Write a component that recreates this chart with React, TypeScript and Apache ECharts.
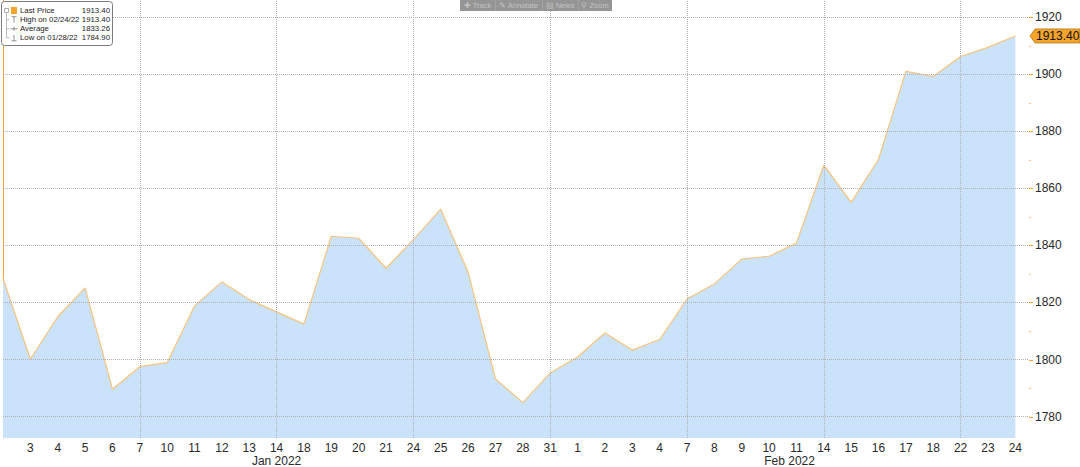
import React, { useEffect, useRef } from "react";
import * as echarts from "echarts";

// Trading days (first point is 31 Dec 2021, unlabeled)
const dateLabels = [
  "", "3", "4", "5", "6", "7", "10", "11", "12", "13", "14", "18", "19", "20", "21",
  "24", "25", "26", "27", "28", "31", "1", "2", "3", "4", "7", "8", "9", "10", "11",
  "14", "15", "16", "17", "18", "22", "23", "24",
];
const prices = [
  1828.4, 1800.2, 1815.0, 1825.1, 1789.6, 1797.5, 1798.9, 1818.8, 1827.2, 1821.0,
  1816.7, 1812.4, 1843.2, 1842.5, 1832.0, 1842.0, 1852.7, 1830.6, 1793.2, 1784.9,
  1795.3, 1800.9, 1809.3, 1803.3, 1807.0, 1821.2, 1826.5, 1835.2, 1836.2, 1840.8,
  1868.1, 1855.1, 1870.2, 1901.0, 1899.2, 1906.2, 1909.4, 1913.4,
];
const monthLabels = ["Jan 2022", "Feb 2022"];
const monthLabelAt = [10, 28.75];
const yTicks = [1780, 1800, 1820, 1840, 1860, 1880, 1900, 1920];
const yMinorTicks = [1790, 1810, 1830, 1850, 1870, 1890, 1910];
const legendNames = ["Last Price", "High on 02/24/22", "Average", "Low on 01/28/22"];
const legendValues = ["1913.40", "1913.40", "1833.26", "1784.90"];
const toolbarButtons = ["✚ Track", "✎ Annotate", "▤ News", "⚲ Zoom"];
const lastPriceText = "1913.40";

const FONT = "'Liberation Sans', Arial, sans-serif";
const ORANGE = "#f5a42c";

export default function App() {
  const ref = useRef<HTMLDivElement>(null);
  useEffect(() => {
    document.body.style.margin = "0";
    const chart = echarts.init(ref.current!, null, { renderer: "svg" });
    const data = prices.map((v, i) => [i, v]);
    const gridIdx = dateLabels.map((_, i) => i).filter((i) => i > 0 && i % 5 === 0);
    const xMax = prices.length - 0.5;
    const gridStyle = { color: "#adb1b6", type: [1, 1], width: 1 };
    chart.setOption({
      animation: false,
      backgroundColor: "#ffffff",
      grid: { left: 0, right: 51, top: 0, bottom: 29, containLabel: false },
      xAxis: {
        type: "value",
        min: 0,
        max: xMax,
        interval: 1,
        axisLine: { show: false },
        axisTick: { show: false },
        splitLine: { show: false },
        axisLabel: {
          color: "#2a2a2a",
          fontFamily: FONT,
          fontSize: 12,
          margin: 4,
          showMinLabel: true,
          showMaxLabel: true,
          formatter: (v: number) => (Number.isInteger(v) && dateLabels[v] !== undefined ? dateLabels[v] : ""),
        },
      },
      yAxis: {
        type: "value",
        position: "right",
        min: 1772.5,
        max: 1926,
        axisLine: { show: true, lineStyle: { color: ORANGE, width: 1 } },
        axisTick: { show: false },
        axisLabel: {
          customValues: yTicks,
          color: "#2a2a2a",
          fontFamily: FONT,
          fontSize: 12,
          margin: 6,
          formatter: (v: number) => String(v),
        },
        splitLine: { show: false },
      },
      series: [
        {
          type: "line",
          data,
          symbol: "none",
          lineStyle: { color: "#f8c37c", width: 1.2 },
          areaStyle: { color: "#cae3fb", opacity: 1 },
          markLine: {
            silent: true,
            symbol: "none",
            label: { show: false },
            lineStyle: gridStyle,
            data: [
              ...gridIdx.map((i) => ({ xAxis: i })),
              ...yTicks.map((v) => ({ yAxis: v })),
            ],
          },
          z: 2,
        },
      ],
    });

    const lastIdx = prices.length - 1;
    const yLast = chart.convertToPixel({ yAxisIndex: 0 }, prices[lastIdx]) as number;
    const axisX = chart.convertToPixel({ xAxisIndex: 0 }, xMax) as number;
    const bottomY = chart.convertToPixel({ yAxisIndex: 0 }, 1772.5) as number;

    const graphics: any[] = [];
    // ticks
    yTicks.forEach((v) => {
      const y = Math.round(chart.convertToPixel({ yAxisIndex: 0 }, v) as number) + 0.5;
      graphics.push({ type: "line", shape: { x1: axisX, y1: y, x2: axisX + 4, y2: y }, style: { stroke: ORANGE, lineWidth: 1 } });
    });
    yMinorTicks.forEach((v) => {
      const y = Math.round(chart.convertToPixel({ yAxisIndex: 0 }, v) as number) + 0.5;
      graphics.push({ type: "line", shape: { x1: axisX, y1: y, x2: axisX + 2, y2: y }, style: { stroke: ORANGE, lineWidth: 1, opacity: 0.6 } });
    });
    // month labels
    monthLabels.forEach((t, k) => {
      const x = chart.convertToPixel({ xAxisIndex: 0 }, monthLabelAt[k]) as number;
      graphics.push({
        type: "text",
        x,
        y: bottomY + 17,
        style: { text: t, fill: "#2a2a2a", font: `12px ${FONT}`, align: "center", verticalAlign: "top" },
      });
    });
    // last price tag
    const h = 14;
    graphics.push({
      type: "polygon",
      shape: {
        points: [
          [axisX + 1, yLast],
          [axisX + 6, yLast - h / 2],
          [1080, yLast - h / 2],
          [1080, yLast + h / 2],
          [axisX + 6, yLast + h / 2],
        ],
      },
      style: { fill: ORANGE, stroke: "#b8770f", lineWidth: 0.8 },
      z: 10,
    });
    graphics.push({
      type: "text",
      x: axisX + 7,
      y: yLast + 0.5,
      style: { text: lastPriceText, fill: "#111", font: `12px ${FONT}`, verticalAlign: "middle" },
      z: 11,
    });
    // legend box
    graphics.push({
      type: "rect",
      shape: { x: 1.5, y: 1.5, width: 111, height: 44, r: 3 },
      style: { fill: "#ffffff", stroke: "#7d7d7d", lineWidth: 1 },
      z: 20,
    });
    const rowY = [10.5, 19.7, 28.8, 37.8];
    // tree lines
    graphics.push({ type: "line", shape: { x1: 6.5, y1: 13, x2: 6.5, y2: rowY[3] }, style: { stroke: "#aaa", lineWidth: 0.8 }, z: 21 });
    graphics.push({ type: "rect", shape: { x: 4.5, y: 8.5, width: 4, height: 4 }, style: { fill: "#fff", stroke: "#999", lineWidth: 0.8 }, z: 22 });
    [1, 2, 3].forEach((k) => {
      graphics.push({ type: "line", shape: { x1: 6.5, y1: rowY[k], x2: 9.5, y2: rowY[k] }, style: { stroke: "#aaa", lineWidth: 0.8 }, z: 21 });
    });
    // icons
    graphics.push({ type: "rect", shape: { x: 11, y: 7, width: 6, height: 7 }, style: { fill: ORANGE }, z: 21 });
    graphics.push({ type: "line", shape: { x1: 11.5, y1: rowY[1] - 3, x2: 16.5, y2: rowY[1] - 3 }, style: { stroke: "#777", lineWidth: 0.8 }, z: 21 });
    graphics.push({ type: "line", shape: { x1: 14, y1: rowY[1] - 3, x2: 14, y2: rowY[1] + 3 }, style: { stroke: "#777", lineWidth: 0.8 }, z: 21 });
    graphics.push({ type: "line", shape: { x1: 10.5, y1: rowY[2], x2: 17.5, y2: rowY[2] }, style: { stroke: "#777", lineWidth: 0.8 }, z: 21 });
    graphics.push({ type: "line", shape: { x1: 14, y1: rowY[2] - 2, x2: 14, y2: rowY[2] + 2 }, style: { stroke: "#777", lineWidth: 0.8 }, z: 21 });
    graphics.push({ type: "line", shape: { x1: 14, y1: rowY[3] - 3, x2: 14, y2: rowY[3] + 3 }, style: { stroke: "#777", lineWidth: 0.8 }, z: 21 });
    graphics.push({ type: "line", shape: { x1: 11.5, y1: rowY[3] + 3, x2: 16.5, y2: rowY[3] + 3 }, style: { stroke: "#777", lineWidth: 0.8 }, z: 21 });
    legendNames.forEach((n, k) => {
      graphics.push({
        type: "text",
        x: 20,
        y: rowY[k],
        style: { text: n, fill: "#222", font: `7.8px ${FONT}`, verticalAlign: "middle" },
        z: 22,
      });
      graphics.push({
        type: "text",
        x: 110,
        y: rowY[k],
        style: { text: legendValues[k], fill: "#222", font: `7.8px ${FONT}`, align: "right", verticalAlign: "middle" },
        z: 22,
      });
    });
    // toolbar
    const tbX = 460;
    const tbW = [35, 47, 36, 34];
    graphics.push({
      type: "rect",
      shape: { x: tbX, y: 0, width: tbW.reduce((a, b) => a + b, 0), height: 11 },
      style: { fill: "#8a8a8a", opacity: 0.9 },
      z: 20,
    });
    let cx = tbX;
    toolbarButtons.forEach((t, k) => {
      if (k > 0) {
        graphics.push({ type: "line", shape: { x1: cx + 0.5, y1: 0, x2: cx + 0.5, y2: 11 }, style: { stroke: "#a3a3a3", lineWidth: 1 }, z: 21 });
      }
      graphics.push({
        type: "text",
        x: cx + tbW[k] / 2,
        y: 5.5,
        style: { text: t, fill: "#c4c4c4", font: `7.5px ${FONT}`, align: "center", verticalAlign: "middle" },
        z: 22,
      });
      cx += tbW[k];
    });

    chart.setOption({ graphic: graphics });
    return () => chart.dispose();
  }, []);
  return <div ref={ref} style={{ width: 1080, height: 467 }} />;
}
